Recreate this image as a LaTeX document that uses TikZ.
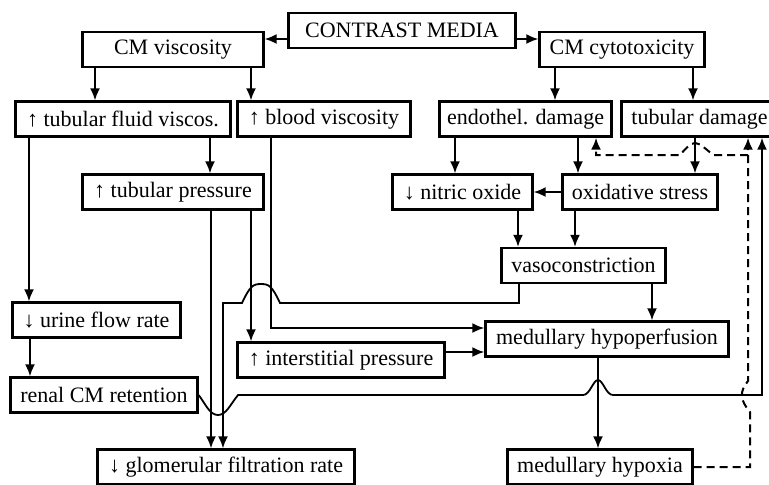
\documentclass[tikz,border=0pt]{standalone}
\usepackage{fontspec}
\setmainfont{Liberation Serif}
\usetikzlibrary{arrows.meta}

\begin{document}
\begin{tikzpicture}[>={Latex[length=6pt, width=5pt]}, x=0.5pt, y=-0.5pt,
  box/.style={draw, line width=1.2pt, minimum height=17.5pt, inner sep=1pt},
  link/.style={line width=0.9pt},
  feedback/.style={line width=1pt, dash pattern=on 4pt off 2.5pt}]
\fontsize{11}{13}\selectfont
\useasboundingbox (0,0) rectangle (769,484);
% boxes
\node[box, minimum width=113.5pt] at (402, 30.5) (cm) {CONTRAST MEDIA};
\node[box, minimum width=90.5pt]  at (173, 49.5) (visc) {CM viscosity};
\node[box, minimum width=82.5pt]  at (622, 49.5) (cyto) {CM cytotoxicity};
\node[box, minimum width=107.5pt] at (123, 119) (tfv) {↑ tubular fluid viscos.};
\node[box, minimum width=86.5pt]  at (324, 119) (bv) {↑ blood viscosity};
\node[box, minimum width=86pt]    at (525.5, 119) (endo) {endothel. damage};
\node[box, minimum width=78pt]    at (699.5, 119) (tubd) {tubular damage};
\node[box, minimum width=90.5pt]  at (173, 192) (tp) {↑ tubular pressure};
\node[box, minimum width=70pt]    at (462.5, 192) (no) {↓ nitric oxide};
\node[box, minimum width=77.5pt]  at (640, 192) (os) {oxidative stress};
\node[box, minimum width=82pt]    at (583.5, 265.5) (vc) {vasoconstriction};
\node[box, minimum width=121.5pt] at (607, 339) (mhp) {medullary hypoperfusion};
\node[box, minimum width=103.5pt] at (341, 360) (ip) {↑ interstitial pressure};
\node[box, minimum width=84pt]    at (96.5, 320) (ufr) {↓ urine flow rate};
\node[box, minimum width=93.5pt]  at (104, 395) (rcr) {renal CM retention};
\node[box, minimum width=128.5pt] at (226, 467) (gfr) {↓ glomerular filtration rate};
\node[box, minimum width=92.5pt]  at (600, 467) (mh) {medullary hypoxia};
% straight links
\path[link] (cm.west |- 0,39) edge[->] (visc.east |- 0,39);
\path[link] (cm.east |- 0,39) edge[->] (cyto.west |- 0,39);
\path[link] (visc.south -| 95,0) edge[->] (tfv.north -| 95,0);
\path[link] (visc.south -| 251,0) edge[->] (bv.north -| 251,0);
\path[link] (cyto.south -| 555,0) edge[->] (endo.north -| 555,0);
\path[link] (cyto.south -| 693,0) edge[->] (tubd.north -| 693,0);
\path[link] (tfv.south -| 210,0) edge[->] (tp.north -| 210,0);
\path[link] (tfv.south -| 29,0) edge[->] (ufr.north -| 29,0);
\path[link] (ufr.south -| 30,0) edge[->] (rcr.north -| 30,0);
\path[link] (tp.south -| 211,0) edge[->] (gfr.north -| 211,0);
\path[link] (tp.south -| 251,0) edge[->] (ip.north -| 251,0);
\path[link] (endo.south -| 455,0) edge[->] (no.north -| 455,0);
\path[link] (endo.south -| 578,0) edge[->] (os.north -| 578,0);
\path[link] (tubd.south -| 695,0) edge[->] (os.north -| 695,0);
\path[link] (os) edge[->] (no);
\path[link] (no.south -| 518,0) edge[->] (vc.north -| 518,0);
\path[link] (os.south -| 575,0) edge[->] (vc.north -| 575,0);
\path[link] (vc.south -| 652,0) edge[->] (mhp.north -| 652,0);
\path[link] (ip.east |- 0,352) edge[->] (mhp.west |- 0,352);
\path[link] (mhp.south -| 598,0) edge[->] (mh.north -| 598,0);
% bent links with jumps
\draw[link, ->] (bv.south -| 271,0) |- (mhp.west |- 0,328);
\draw[link, ->] (vc.south -| 519,0) |- (280,303)
  .. controls (272,286) and (269,284) .. (261,284)
  .. controls (253,284) and (250,286) .. (242,303) -| (gfr.north -| 223,0);
\draw[link, ->] (rcr.east) .. controls (206,405) and (210,415) .. (218,415)
  .. controls (226,415) and (230,405) .. (238,395) -- (583,395)
  .. controls (590,395) and (593,380) .. (598,380)
  .. controls (603,380) and (606,395) .. (613,395) -| (tubd.south -| 762,0);
% feedback from hypoxia
\draw[feedback, ->] (mh.east) -| (750,412)
  .. controls (740,400) and (739,392) .. (748,381) -- (tubd.south -| 748,0);
\draw[feedback, ->] (748,155) -- (713,155)
  .. controls (705,148) and (699,143) .. (695,143)
  .. controls (691,143) and (686,148) .. (680,155) -| (endo.south -| 596,0);
\end{tikzpicture}
\end{document}
